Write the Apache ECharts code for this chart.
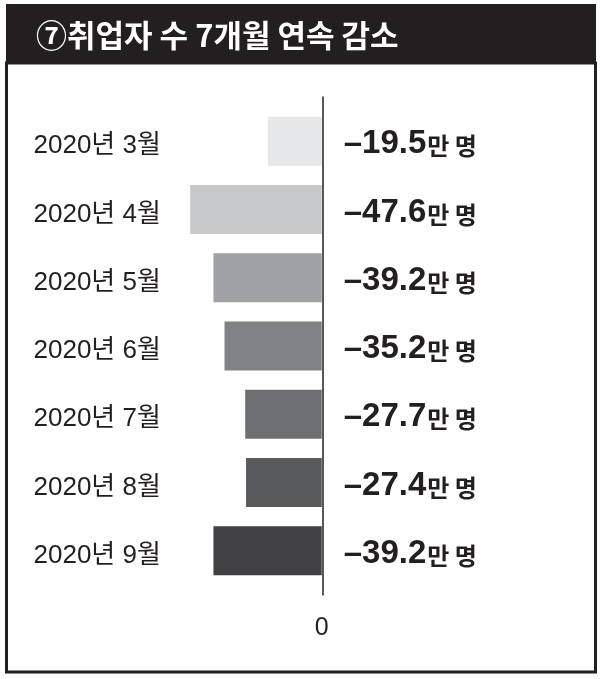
<!DOCTYPE html>
<html><head><meta charset="utf-8">
<script src="https://cdn.jsdelivr.net/npm/echarts@6/dist/echarts.min.js"></script>
<style>html,body{margin:0;padding:0;background:#fff}#c{width:601px;height:679px}</style>
</head><body><div id="c"></div>
<script>
const titleText = '⑦취업자 수 7개월 연속 감소';
const categories = ['2020년 3월','2020년 4월','2020년 5월','2020년 6월','2020년 7월','2020년 8월','2020년 9월'];
const values = [-19.5, -47.6, -39.2, -35.2, -27.7, -27.4, -39.2];
const barColors = ['#e6e7e8','#c7c8ca','#a0a1a4','#808285','#6d6e71','#58595b','#414042'];
const unitText = '만 명';

const ink = '#231f20';
const chart = echarts.init(document.getElementById('c'));
chart.setOption({
  animation: false,
  backgroundColor: '#fff',
  title: {
    text: titleText, left: 31, top: 15,
    textStyle: {color: '#fff', fontSize: 31, fontWeight: 'bold', fontFamily: 'Noto Sans CJK KR'}
  },
  graphic: [
    {type: 'rect', z: -1, shape: {x: 6, y: 4, width: 590, height: 60}, style: {fill: ink}},
    {type: 'rect', z: -1, shape: {x: 6.5, y: 63, width: 589, height: 609}, style: {fill: 'none', stroke: ink, lineWidth: 3}}
  ],
  grid: [
    {left: 45.5, right: 0.5, top: 107, bottom: 94},
    {left: 45.5, right: 0.5, top: 97, bottom: 84}
  ],
  xAxis: [
    {type: 'value', gridIndex: 0, min: -100, max: 100, interval: 100,
     axisLine: {show: false}, axisTick: {show: false}, splitLine: {show: false},
     axisLabel: {margin: 31, fontSize: 25, color: ink, fontFamily: 'Liberation Sans',
       formatter: v => v === 0 ? '0' : ''}},
    {type: 'value', gridIndex: 1, min: -100, max: 100,
     axisLine: {show: false}, axisTick: {show: false}, splitLine: {show: false}, axisLabel: {show: false}}
  ],
  yAxis: [
    {type: 'category', gridIndex: 0, data: categories, inverse: true,
     axisLine: {show: false, onZero: false}, axisTick: {show: false},
     axisLabel: {align: 'left', margin: 12,
       formatter: v => '{c|' + v + '}',
       rich: {c: {fontSize: 26, color: ink, padding: [10, 0, 0, 0],
         fontFamily: 'Liberation Sans, Noto Sans CJK KR'}}}},
    {type: 'value', gridIndex: 1, min: 0, max: 1,
     axisLine: {show: true, onZero: true, lineStyle: {color: ink, width: 1.5}},
     axisTick: {show: false}, splitLine: {show: false}, axisLabel: {show: false}}
  ],
  series: [
    {type: 'bar', xAxisIndex: 0, yAxisIndex: 0, barWidth: 49,
     data: values.map((v, i) => ({value: v, itemStyle: {color: barColors[i]}}))},
    {type: 'scatter', xAxisIndex: 0, yAxisIndex: 0, symbolSize: 0,
     itemStyle: {color: 'transparent', opacity: 1},
     data: values.map((v, i) => [0, categories[i], v]),
     label: {show: true, position: 'right', distance: 22, offset: [0, 3],
       formatter: p => '{n|–' + Math.abs(p.value[2]).toFixed(1) + '}{u|' + unitText + '}',
       rich: {
         n: {fontSize: 33, fontWeight: 'bold', color: ink, fontFamily: 'Liberation Sans'},
         u: {fontSize: 24, fontWeight: 'bold', color: ink, fontFamily: 'Noto Sans CJK KR', padding: [4, 0, 0, 1]}
       }}}
  ]
});
</script></body></html>
